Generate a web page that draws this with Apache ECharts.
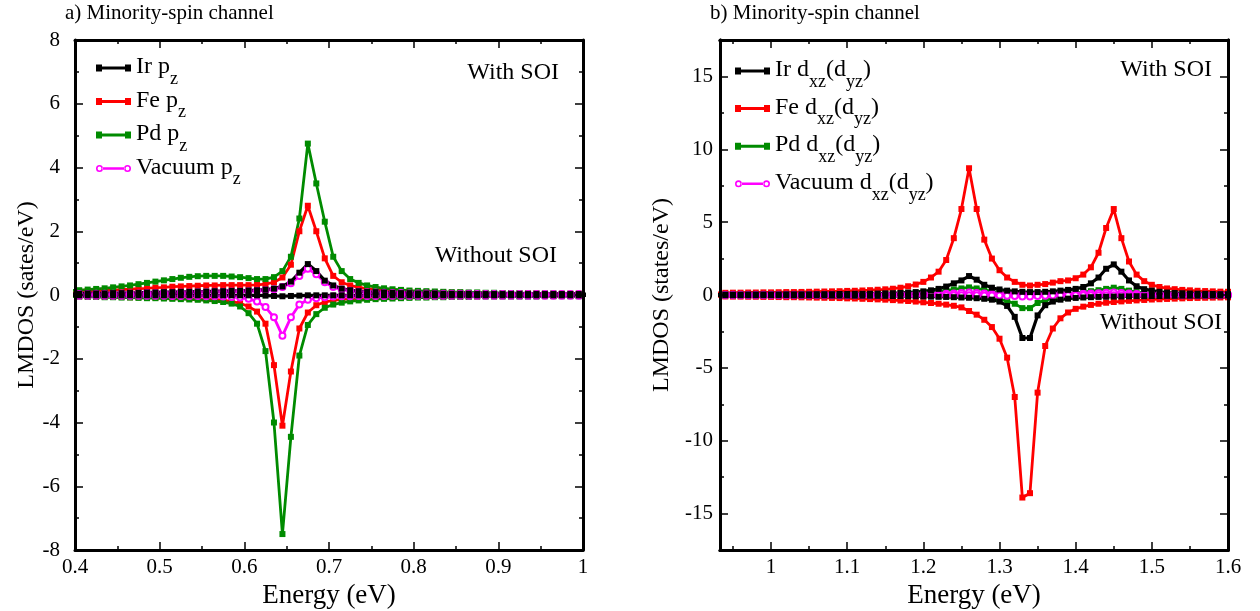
<!DOCTYPE html>
<html><head><meta charset="utf-8">
<script src="https://cdn.jsdelivr.net/npm/echarts@6/dist/echarts.min.js"></script>
<style>html,body{margin:0;padding:0;background:#fff}#c{width:1260px;height:611px}</style>
</head><body><div id="c"></div>
<script>
const FONT = '"Liberation Serif","Times New Roman",serif';

// ---------- Panel a: p_z, energies (eV) ----------
const energyA = [0.395,0.405,0.415,0.425,0.435,0.445,0.455,0.465,0.475,0.485,
  0.495,0.505,0.515,0.525,0.535,0.545,0.555,0.565,0.575,0.585,
  0.595,0.605,0.615,0.625,0.635,0.645,0.655,0.665,0.675,0.685,
  0.695,0.705,0.715,0.725,0.735,0.745,0.755,0.765,0.775,0.785,
  0.795,0.805,0.815,0.825,0.835,0.845,0.855,0.865,0.875,0.885,
  0.895,0.905,0.915,0.925,0.935,0.945,0.955,0.965,0.975,0.985,0.995,1.005];
// With SOI (plotted positive)
const irSoiA = [0.04,0.04,0.05,0.05,0.05,0.06,0.06,0.07,0.07,0.08,
  0.08,0.09,0.09,0.1,0.1,0.11,0.11,0.12,0.12,0.13,
  0.13,0.14,0.15,0.17,0.2,0.27,0.42,0.7,0.97,0.75,
  0.45,0.3,0.2,0.15,0.12,0.1,0.09,0.08,0.07,0.06,
  0.06,0.05,0.05,0.05,0.04,0.04,0.04,0.04,0.03,0.03,
  0.03,0.03,0.03,0.03,0.03,0.03,0.03,0.03,0.03,0.03,0.03,0.03];
const feSoiA = [0.1,0.11,0.12,0.13,0.14,0.15,0.17,0.18,0.2,0.21,
  0.23,0.24,0.26,0.27,0.28,0.29,0.3,0.3,0.31,0.31,
  0.31,0.31,0.32,0.34,0.4,0.55,0.95,2.0,2.8,2.0,
  1.15,0.6,0.4,0.3,0.24,0.2,0.17,0.15,0.13,0.12,
  0.11,0.1,0.09,0.08,0.08,0.07,0.07,0.06,0.06,0.05,
  0.05,0.05,0.05,0.05,0.05,0.05,0.04,0.04,0.04,0.04,0.04,0.04];
const pdSoiA = [0.14,0.15,0.17,0.19,0.21,0.24,0.27,0.3,0.34,0.38,
  0.42,0.46,0.5,0.54,0.57,0.59,0.6,0.6,0.6,0.58,
  0.56,0.53,0.5,0.5,0.56,0.75,1.2,2.4,4.75,3.5,
  2.3,1.2,0.75,0.5,0.38,0.3,0.25,0.21,0.18,0.16,
  0.14,0.13,0.12,0.11,0.1,0.09,0.09,0.08,0.08,0.07,
  0.07,0.06,0.06,0.06,0.05,0.05,0.05,0.05,0.04,0.04,0.04,0.04];
const vacSoiA = [0.03,0.03,0.03,0.04,0.04,0.04,0.05,0.05,0.05,0.06,
  0.06,0.07,0.07,0.08,0.08,0.09,0.09,0.1,0.1,0.11,
  0.11,0.12,0.13,0.15,0.18,0.25,0.37,0.6,0.82,0.65,
  0.4,0.25,0.17,0.13,0.1,0.09,0.08,0.07,0.06,0.06,
  0.05,0.05,0.05,0.04,0.04,0.04,0.04,0.04,0.03,0.03,
  0.03,0.03,0.03,0.03,0.03,0.03,0.03,0.03,0.03,0.03,0.03,0.03];
// Without SOI (plotted negative)
const irNoA = [-0.01,-0.01,-0.01,-0.01,-0.01,-0.01,-0.01,-0.01,-0.01,-0.01,
  -0.01,-0.01,-0.01,-0.01,-0.01,-0.01,-0.01,-0.01,-0.01,-0.01,
  -0.01,-0.01,-0.01,-0.02,-0.03,-0.04,-0.03,-0.02,-0.01,-0.01,
  -0.01,-0.01,-0.01,-0.01,-0.01,-0.01,-0.01,-0.01,-0.01,-0.01,
  -0.01,-0.01,-0.01,-0.01,-0.01,-0.01,-0.01,-0.01,-0.01,-0.01,
  -0.01,-0.01,-0.01,-0.01,-0.01,-0.01,-0.01,-0.01,-0.01,-0.01,-0.01,-0.01];
const feNoA = [-0.04,-0.04,-0.05,-0.05,-0.05,-0.06,-0.06,-0.07,-0.07,-0.08,
  -0.08,-0.09,-0.09,-0.1,-0.11,-0.12,-0.13,-0.14,-0.16,-0.2,
  -0.26,-0.36,-0.52,-0.9,-2.2,-4.1,-2.4,-1.05,-0.55,-0.32,
  -0.22,-0.17,-0.14,-0.12,-0.1,-0.09,-0.08,-0.07,-0.07,-0.06,
  -0.06,-0.05,-0.05,-0.05,-0.04,-0.04,-0.04,-0.04,-0.04,-0.03,
  -0.03,-0.03,-0.03,-0.03,-0.03,-0.03,-0.03,-0.03,-0.03,-0.03,-0.03,-0.03];
const pdNoA = [-0.05,-0.05,-0.06,-0.06,-0.07,-0.07,-0.08,-0.08,-0.09,-0.1,
  -0.1,-0.11,-0.12,-0.13,-0.14,-0.15,-0.17,-0.19,-0.22,-0.27,
  -0.36,-0.57,-0.9,-1.76,-4.0,-7.5,-4.45,-1.9,-0.94,-0.6,
  -0.4,-0.3,-0.24,-0.2,-0.17,-0.15,-0.13,-0.12,-0.11,-0.1,
  -0.09,-0.08,-0.08,-0.07,-0.07,-0.06,-0.06,-0.06,-0.05,-0.05,
  -0.05,-0.05,-0.05,-0.05,-0.05,-0.05,-0.04,-0.04,-0.04,-0.04,-0.04,-0.04];
const vacNoA = [-0.02,-0.02,-0.02,-0.02,-0.02,-0.02,-0.02,-0.02,-0.02,-0.02,
  -0.02,-0.02,-0.03,-0.03,-0.03,-0.03,-0.04,-0.04,-0.05,-0.06,
  -0.08,-0.12,-0.2,-0.38,-0.7,-1.28,-0.7,-0.3,-0.15,-0.1,
  -0.07,-0.05,-0.04,-0.04,-0.03,-0.03,-0.03,-0.03,-0.02,-0.02,
  -0.02,-0.02,-0.02,-0.02,-0.02,-0.02,-0.02,-0.02,-0.02,-0.02,
  -0.02,-0.02,-0.02,-0.02,-0.02,-0.02,-0.02,-0.02,-0.02,-0.02,-0.02,-0.02];

// ---------- Panel b: d_xz(d_yz) ----------
const energyB = [0.93,0.94,0.95,0.96,0.97,0.98,0.99,1.00,
  1.01,1.02,1.03,1.04,1.05,1.06,1.07,1.08,1.09,1.10,
  1.11,1.12,1.13,1.14,1.15,1.16,1.17,1.18,1.19,1.20,
  1.21,1.22,1.23,1.24,1.25,1.26,1.27,1.28,1.29,1.30,
  1.31,1.32,1.33,1.34,1.35,1.36,1.37,1.38,1.39,1.40,
  1.41,1.42,1.43,1.44,1.45,1.46,1.47,1.48,1.49,1.50,
  1.51,1.52,1.53,1.54,1.55,1.56,1.57,1.58,1.59,1.60];
const irSoiB = [0.03,0.03,0.03,0.03,0.04,0.04,0.04,0.04,
  0.04,0.05,0.05,0.05,0.05,0.06,0.06,0.06,0.07,0.07,
  0.08,0.08,0.09,0.1,0.11,0.12,0.14,0.17,0.2,0.25,
  0.32,0.42,0.58,0.8,1.0,1.3,1.05,0.7,0.5,0.38,
  0.3,0.25,0.22,0.2,0.2,0.22,0.25,0.3,0.35,0.42,
  0.55,0.8,1.2,1.8,2.1,1.6,1.0,0.6,0.4,0.3,
  0.22,0.17,0.14,0.12,0.1,0.09,0.08,0.07,0.06,0.06];
const feSoiB = [0.15,0.15,0.16,0.16,0.17,0.17,0.18,0.18,
  0.19,0.2,0.2,0.21,0.22,0.23,0.24,0.25,0.26,0.28,
  0.29,0.31,0.33,0.36,0.39,0.43,0.5,0.6,0.72,0.9,
  1.2,1.6,2.4,3.9,5.9,8.7,5.9,3.8,2.5,1.7,
  1.2,0.9,0.7,0.65,0.7,0.75,0.85,0.95,1.0,1.15,
  1.4,1.9,2.9,4.6,5.9,3.9,2.3,1.4,0.95,0.7,
  0.55,0.45,0.4,0.35,0.32,0.29,0.27,0.25,0.23,0.22];
const pdSoiB = [0.02,0.02,0.02,0.02,0.02,0.02,0.02,0.02,
  0.03,0.03,0.03,0.03,0.03,0.04,0.04,0.04,0.05,0.05,
  0.05,0.06,0.06,0.07,0.08,0.09,0.1,0.12,0.14,0.17,
  0.2,0.25,0.3,0.38,0.45,0.52,0.45,0.35,0.25,0.18,
  0.12,0.08,0.05,0.04,0.05,0.06,0.08,0.1,0.12,0.15,
  0.2,0.26,0.33,0.42,0.5,0.42,0.3,0.2,0.14,0.1,
  0.08,0.07,0.06,0.05,0.05,0.04,0.04,0.03,0.03,0.03];
const vacSoiB = [0.01,0.01,0.01,0.01,0.01,0.01,0.01,0.01,
  0.01,0.01,0.01,0.01,0.01,0.01,0.01,0.01,0.01,0.01,
  0.01,0.01,0.02,0.02,0.02,0.02,0.03,0.03,0.04,0.05,
  0.06,0.07,0.09,0.11,0.14,0.17,0.14,0.11,0.08,0.06,
  0.05,0.04,0.03,0.03,0.03,0.04,0.04,0.05,0.06,0.07,
  0.08,0.1,0.12,0.15,0.18,0.14,0.1,0.07,0.05,0.04,
  0.03,0.03,0.02,0.02,0.02,0.02,0.01,0.01,0.01,0.01];
const irNoB = [-0.02,-0.02,-0.02,-0.02,-0.02,-0.02,-0.02,-0.02,
  -0.02,-0.02,-0.03,-0.03,-0.03,-0.03,-0.03,-0.04,-0.04,-0.04,
  -0.05,-0.05,-0.05,-0.06,-0.06,-0.07,-0.07,-0.08,-0.09,-0.1,
  -0.11,-0.12,-0.13,-0.15,-0.17,-0.19,-0.22,-0.26,-0.32,-0.45,
  -0.75,-1.5,-2.95,-2.95,-1.4,-0.7,-0.45,-0.32,-0.25,-0.2,
  -0.17,-0.15,-0.13,-0.12,-0.11,-0.1,-0.09,-0.08,-0.08,-0.07,
  -0.07,-0.06,-0.06,-0.05,-0.05,-0.05,-0.04,-0.04,-0.04,-0.04];
const feNoB = [-0.1,-0.1,-0.11,-0.11,-0.12,-0.12,-0.13,-0.13,
  -0.14,-0.15,-0.15,-0.16,-0.17,-0.18,-0.19,-0.2,-0.21,-0.23,
  -0.24,-0.26,-0.28,-0.3,-0.32,-0.35,-0.38,-0.41,-0.45,-0.5,
  -0.55,-0.6,-0.66,-0.74,-0.85,-1.1,-1.35,-1.7,-2.2,-3.0,
  -4.3,-7.0,-13.9,-13.6,-6.7,-3.5,-2.3,-1.6,-1.2,-0.95,
  -0.8,-0.68,-0.6,-0.53,-0.48,-0.44,-0.4,-0.37,-0.34,-0.31,
  -0.29,-0.27,-0.25,-0.23,-0.21,-0.2,-0.19,-0.18,-0.17,-0.16];
const pdNoB = [-0.01,-0.01,-0.01,-0.01,-0.01,-0.01,-0.01,-0.01,
  -0.01,-0.01,-0.02,-0.02,-0.02,-0.02,-0.02,-0.02,-0.03,-0.03,
  -0.03,-0.03,-0.04,-0.04,-0.04,-0.05,-0.05,-0.06,-0.06,-0.07,
  -0.08,-0.09,-0.1,-0.11,-0.12,-0.14,-0.16,-0.19,-0.23,-0.3,
  -0.4,-0.6,-0.9,-0.9,-0.55,-0.35,-0.25,-0.19,-0.15,-0.12,
  -0.1,-0.09,-0.08,-0.07,-0.06,-0.06,-0.05,-0.05,-0.04,-0.04,
  -0.04,-0.03,-0.03,-0.03,-0.03,-0.02,-0.02,-0.02,-0.02,-0.02];
const vacNoB = [-0.01,-0.01,-0.01,-0.01,-0.01,-0.01,-0.01,-0.01,
  -0.01,-0.01,-0.01,-0.01,-0.01,-0.01,-0.01,-0.01,-0.01,-0.01,
  -0.01,-0.01,-0.01,-0.01,-0.01,-0.01,-0.01,-0.01,-0.01,-0.01,
  -0.01,-0.01,-0.01,-0.02,-0.02,-0.02,-0.02,-0.03,-0.03,-0.04,
  -0.05,-0.07,-0.1,-0.1,-0.07,-0.05,-0.04,-0.03,-0.02,-0.02,
  -0.02,-0.02,-0.01,-0.01,-0.01,-0.01,-0.01,-0.01,-0.01,-0.01,
  -0.01,-0.01,-0.01,-0.01,-0.01,-0.01,-0.01,-0.01,-0.01,-0.01];

// ---------- labels ----------
const namesA = ['Ir pz','Fe pz','Pd pz','Vacuum pz'];
const namesB = ['Ir dxz(dyz)','Fe dxz(dyz)','Pd dxz(dyz)','Vacuum dxz(dyz)'];
const richA = ['{n|Ir p}{s|z}','{n|Fe p}{s|z}','{n|Pd p}{s|z}','{n|Vacuum p}{s|z}'];
const richB = ['{n|Ir d}{s|xz}{n|(d}{s|yz}{n|)}','{n|Fe d}{s|xz}{n|(d}{s|yz}{n|)}',
  '{n|Pd d}{s|xz}{n|(d}{s|yz}{n|)}','{n|Vacuum d}{s|xz}{n|(d}{s|yz}{n|)}'];
const colors = ['#000000','#ff0000','#008b00','#ff00ff'];

// ---------- build ----------
function pairs(xs, ys){ return xs.map((x,i)=>[x, ys[i]]); }
function mk(name, ci, xs, ys, xi, yi){
  const vac = ci === 3;
  return {
    type:'line', name, xAxisIndex:xi, yAxisIndex:yi,
    data: pairs(xs, ys),
    symbol: vac ? 'emptyCircle' : 'rect',
    symbolSize: 6,
    showSymbol:true, showAllSymbol:true,
    lineStyle:{color:colors[ci], width: ci === 0 ? 3.2 : 2.8},
    itemStyle:{color:colors[ci], borderColor:colors[ci], borderWidth: vac ? 1.3 : 0},
    emphasis:{disabled:true}, animation:false
  };
}
// drawing order: Fe, Pd, Vacuum, then Ir (black zero band on top)
const drawOrder = [1,2,3,0];
const seriesList = [];
const aSoi=[irSoiA,feSoiA,pdSoiA,vacSoiA], aNo=[irNoA,feNoA,pdNoA,vacNoA];
const bSoi=[irSoiB,feSoiB,pdSoiB,vacSoiB], bNo=[irNoB,feNoB,pdNoB,vacNoB];
for (const i of drawOrder){
  seriesList.push(mk(namesA[i], i, energyA, aSoi[i], 0, 0));
  seriesList.push(mk(namesA[i], i, energyA, aNo[i], 0, 0));
}
for (const i of drawOrder){
  seriesList.push(mk(namesB[i], i, energyB, bSoi[i], 2, 2));
  seriesList.push(mk(namesB[i], i, energyB, bNo[i], 2, 2));
}

const tickLS = {color:'#000', width:1.5};
const frameLine = {show:true, onZero:false, lineStyle:{color:'#000', width:3}};
const lbl = {color:'#000', fontFamily:FONT, fontSize:21};
function ax(o){
  return Object.assign({
    type:'value', axisLine:frameLine, splitLine:{show:false}, minorSplitLine:{show:false},
    axisTick:{show:true, inside:true, length:8, lineStyle:tickLS},
    axisLabel:{show:false}, z:5, silent:true
  }, o);
}
const nameStyle = {fontFamily:FONT, fontSize:24, color:'#000'};
const xNameStyle = {fontFamily:FONT, fontSize:27, color:'#000'};
const minorA = {show:true, splitNumber:2, length:4, lineStyle:tickLS};

const xAxes = [
  ax({gridIndex:0, position:'bottom', min:0.4, max:1.0, interval:0.1, minorTick:minorA,
      axisLabel:Object.assign({show:true, margin:7}, lbl),
      name:'Energy (eV)', nameLocation:'middle', nameGap:24, nameTextStyle:xNameStyle}),
  ax({gridIndex:0, position:'top', min:0.4, max:1.0, interval:0.1, minorTick:minorA}),
  ax({gridIndex:1, position:'bottom', min:0.933, max:1.6, splitNumber:6,
      axisLabel:Object.assign({show:true, margin:7, showMinLabel:false}, lbl),
      name:'Energy (eV)', nameLocation:'middle', nameGap:24, nameTextStyle:xNameStyle}),
  ax({gridIndex:1, position:'bottom', min:0.933, max:1.6, splitNumber:13,
      axisTick:{show:true, inside:true, length:4, lineStyle:tickLS}}),
  ax({gridIndex:1, position:'top', min:0.933, max:1.6, splitNumber:6}),
  ax({gridIndex:1, position:'top', min:0.933, max:1.6, splitNumber:13,
      axisTick:{show:true, inside:true, length:4, lineStyle:tickLS}})
];
const yAxes = [
  ax({gridIndex:0, position:'left', min:-8, max:8, interval:2, minorTick:minorA,
      axisLabel:Object.assign({show:true, margin:15}, lbl),
      name:'LMDOS (sates/eV)', nameLocation:'middle', nameGap:36, nameTextStyle:nameStyle}),
  ax({gridIndex:0, position:'right', min:-8, max:8, interval:2, minorTick:minorA}),
  ax({gridIndex:1, position:'left', min:-17.5, max:17.5, splitNumber:7,
      axisLabel:Object.assign({show:true, margin:7, showMinLabel:false, showMaxLabel:false}, lbl),
      name:'LMDOS (states/eV)', nameLocation:'middle', nameGap:46, nameTextStyle:nameStyle}),
  ax({gridIndex:1, position:'left', min:-17.5, max:17.5, interval:2.5,
      axisTick:{show:true, inside:true, length:4, lineStyle:tickLS}}),
  ax({gridIndex:1, position:'right', min:-17.5, max:17.5, splitNumber:7}),
  ax({gridIndex:1, position:'right', min:-17.5, max:17.5, interval:2.5,
      axisTick:{show:true, inside:true, length:4, lineStyle:tickLS}})
];

const SQ = 'path://M0,0 H6 V7 H0 Z M6,2 H29 V5 H6 Z M29,0 H35 V7 H29 Z';
const RING = 'path://M0,3.5 A3.5,3.5 0 1,0 7,3.5 A3.5,3.5 0 1,0 0,3.5 Z M1.6,3.5 A1.9,1.9 0 1,1 5.4,3.5 A1.9,1.9 0 1,1 1.6,3.5 Z M6.5,2.2 H28.5 V4.8 H6.5 Z M28,3.5 A3.5,3.5 0 1,0 35,3.5 A3.5,3.5 0 1,0 28,3.5 Z M29.6,3.5 A1.9,1.9 0 1,1 33.4,3.5 A1.9,1.9 0 1,1 29.6,3.5 Z';
const rich = {
  n:{fontFamily:FONT, fontSize:24, color:'#000', lineHeight:26, verticalAlign:'top'},
  s:{fontFamily:FONT, fontSize:18, color:'#000', lineHeight:18, verticalAlign:'top', padding:[15,0,0,0]}
};
function legend(names, richs, left, top, gap){
  return {
    orient:'vertical', left, top, padding:0, itemGap:gap, itemWidth:35, itemHeight:7,
    selectedMode:false, itemStyle:{borderWidth:0},
    data: names.map((n,i)=>({name:n, icon: i===3 ? RING : SQ})),
    formatter: (name)=> richs[names.indexOf(name)],
    textStyle:{fontFamily:FONT, fontSize:24, color:'#000', rich}
  };
}

function txt(x, y, s, align, size){
  return {type:'text', x, y, style:{text:s, font:(size||24)+'px '+FONT, fill:'#000',
    textAlign:align||'left', textVerticalAlign:'middle'}, silent:true};
}

const chart = echarts.init(document.getElementById('c'), null, {renderer:'canvas'});
chart.setOption({
  animation:false,
  backgroundColor:'#fff',
  grid:[
    {left:75, top:40, width:508, height:510, containLabel:false, outerBoundsMode:'none'},
    {left:720, top:40, width:508, height:510, containLabel:false, outerBoundsMode:'none'}
  ],
  xAxis:xAxes, yAxis:yAxes,
  legend:[ legend(namesA, richA, 96, 55, 0.5), legend(namesB, richB, 735, 58, 4.6) ],
  series:seriesList,
  graphic:[
    txt(65, 13, 'a) Minority-spin channel', 'left', 21),
    txt(710, 13, 'b) Minority-spin channel', 'left', 21),
    txt(559, 73, 'With SOI', 'right'),
    txt(557, 256, 'Without SOI', 'right'),
    txt(1212, 70, 'With SOI', 'right'),
    txt(1222, 323, 'Without SOI', 'right')
  ]
});
</script></body></html>
